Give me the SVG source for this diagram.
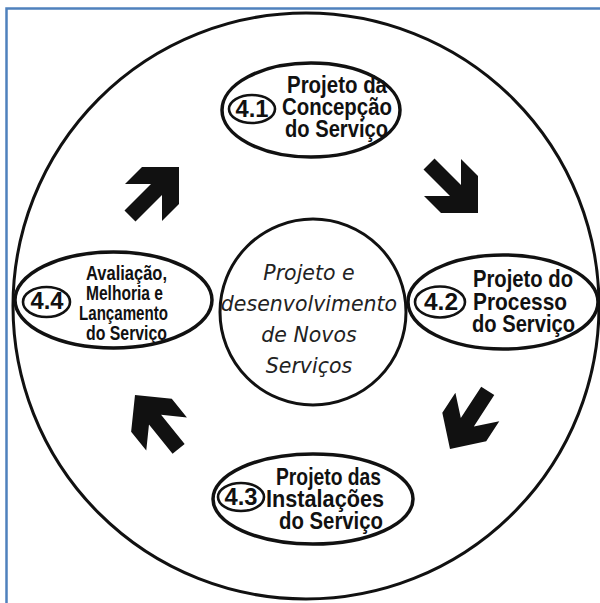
<svg xmlns="http://www.w3.org/2000/svg" width="600" height="603" viewBox="0 0 600 603">
<defs>
<style>
.ring{fill:none;stroke:#111;stroke-width:3.5}
.big{fill:none;stroke:#111;stroke-width:3}
.num{fill:none;stroke:#111;stroke-width:2.6}
.lbl{font-family:"Liberation Sans",Arial,sans-serif;font-weight:bold;font-size:24px;fill:#111}
.lbl4{font-family:"Liberation Sans",Arial,sans-serif;font-weight:bold;font-size:21px;fill:#111}
.nt{font-family:"Liberation Sans",Arial,sans-serif;font-weight:bold;font-size:23px;fill:#111;text-anchor:middle}
.ct{font-family:"DejaVu Sans",sans-serif;font-style:italic;font-size:20.5px;fill:#222;text-anchor:middle}
.arr{fill:#111}
</style>
<path id="blk" d="M-37,0 L0,0 L0,37 L-17,54 L-17,28 L-43.5,54.5 L-54.5,43.5 L-28,17 L-54,17 Z"/>
</defs>
<rect x="0" y="0" width="600" height="603" fill="#fff"/>
<rect x="6.5" y="8.5" width="620" height="620" fill="none" stroke="#4f81bd" stroke-width="2.5"/>
<circle class="big" cx="306" cy="306" r="293"/>

<g id="connectors">
<use href="#blk" class="arr" transform="translate(179,167)"/>
<use href="#blk" class="arr" transform="translate(478,213) rotate(90)"/>
<use href="#blk" class="arr" transform="translate(450,449) rotate(168)"/>
<use href="#blk" class="arr" transform="translate(135,395) rotate(276)"/>
</g>

<g id="center">
<circle class="big" cx="313" cy="312" r="93"/>
<text class="ct" x="309" y="280">Projeto e</text>
<text class="ct" x="309" y="311">desenvolvimento</text>
<text class="ct" x="309" y="342">de Novos</text>
<text class="ct" x="309" y="373">Serviços</text>
</g>

<g id="n41">
<ellipse class="ring" cx="311" cy="110" rx="89" ry="47"/>
<ellipse class="num" cx="252" cy="109" rx="23" ry="14"/>
<text class="nt" x="252" y="117" textLength="33" lengthAdjust="spacingAndGlyphs">4.1</text>
<text class="lbl" x="287" y="93" textLength="100" lengthAdjust="spacingAndGlyphs">Projeto da</text>
<text class="lbl" x="282" y="115" textLength="110" lengthAdjust="spacingAndGlyphs">Concepção</text>
<text class="lbl" x="285" y="137" textLength="103" lengthAdjust="spacingAndGlyphs">do Serviço</text>
</g>

<g id="n42">
<ellipse class="ring" cx="503" cy="302" rx="95" ry="47"/>
<ellipse class="num" cx="440" cy="302" rx="25" ry="15.5"/>
<text class="nt" x="441" y="310" textLength="34" lengthAdjust="spacingAndGlyphs">4.2</text>
<text class="lbl" x="473" y="287" textLength="100" lengthAdjust="spacingAndGlyphs">Projeto do</text>
<text class="lbl" x="473" y="310" textLength="94" lengthAdjust="spacingAndGlyphs">Processo</text>
<text class="lbl" x="472" y="332" textLength="103" lengthAdjust="spacingAndGlyphs">do Serviço</text>
</g>

<g id="n43">
<ellipse class="ring" cx="313" cy="499" rx="100" ry="45"/>
<ellipse class="num" cx="241" cy="497" rx="23" ry="14"/>
<text class="nt" x="241" y="505" textLength="33" lengthAdjust="spacingAndGlyphs">4.3</text>
<text class="lbl" x="276" y="485" textLength="105" lengthAdjust="spacingAndGlyphs">Projeto das</text>
<text class="lbl" x="266" y="507" textLength="118" lengthAdjust="spacingAndGlyphs">Instalações</text>
<text class="lbl" x="279" y="529" textLength="104" lengthAdjust="spacingAndGlyphs">do Serviço</text>
</g>

<g id="n44">
<ellipse class="ring" cx="113.5" cy="300" rx="98.5" ry="48"/>
<ellipse class="num" cx="46.5" cy="302" rx="23.5" ry="15"/>
<text class="nt" x="47" y="309" textLength="33" lengthAdjust="spacingAndGlyphs">4.4</text>
<text class="lbl4" x="86" y="280" textLength="81" lengthAdjust="spacingAndGlyphs">Avaliação,</text>
<text class="lbl4" x="86" y="300" textLength="77" lengthAdjust="spacingAndGlyphs">Melhoria e</text>
<text class="lbl4" x="79" y="320" textLength="89" lengthAdjust="spacingAndGlyphs">Lançamento</text>
<text class="lbl4" x="86" y="340" textLength="81" lengthAdjust="spacingAndGlyphs">do Serviço</text>
</g>
</svg>
